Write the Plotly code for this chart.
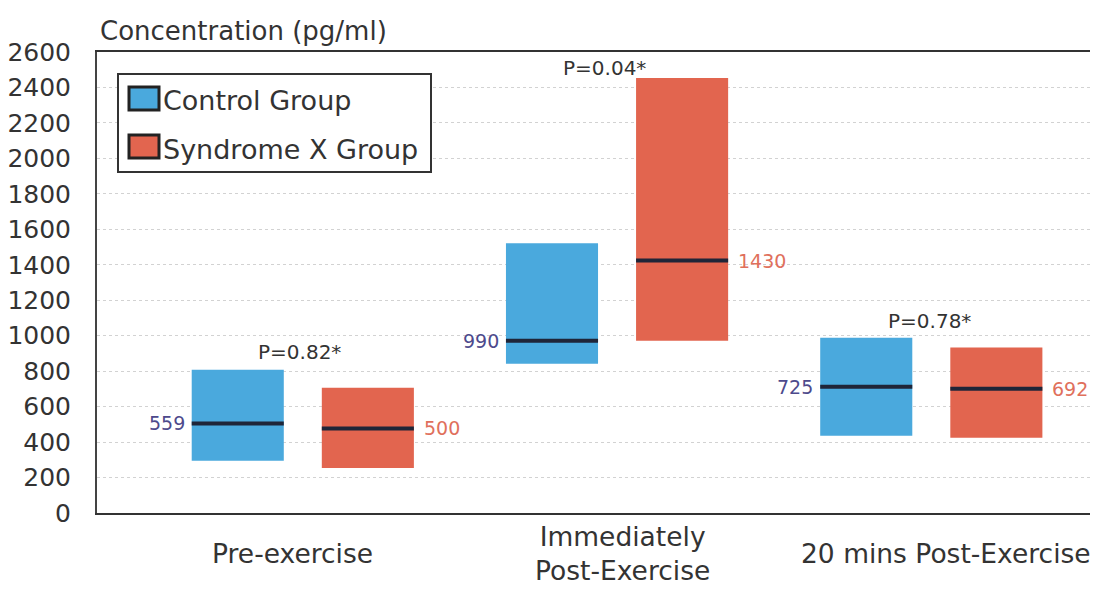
import plotly.graph_objects as go

# ---- data ----
categories = ["Pre-exercise", "Immediately<br>Post-Exercise", "20 mins Post-Exercise"]
group_pos = [0, 1, 2]

control_low = [294, 842, 435]
control_high = [808, 1521, 989]
control_median = [505, 972, 712]
control_labels = ["559", "990", "725"]

syn_low = [254, 972, 424]
syn_high = [707, 2453, 933]
syn_median = [477, 1424, 701]
syn_labels = ["500", "1430", "692"]

p_texts = ["P=0.82*", "P=0.04*", "P=0.78*"]
p_y = [910, 2510, 1085]

y_ticks = list(range(0, 2601, 200))

# ---- styling ----
FONT = "DejaVu Sans"
BLUE = "#4aa9dd"
RED = "#e2654f"
MED = "#1f2538"
TXT = "#333333"
CTRL_LBL = "#4d4a8c"
SYN_LBL = "#e0705c"

PAGE_OFF = 8  # html body margin
W, H = 1098, 590
ML = 97 - PAGE_OFF
MT = 52 - PAGE_OFF
MB = H - (513 - PAGE_OFF)
MR = 0
OFF = 0.207
BW = 0.293
X0_PX, X_SCALE = 302.8, 314.25  # screen px of group 0, px per group


def px_x(px):
    return (px - PAGE_OFF - ML) / (W - ML - MR)


def px_y(py):
    return (H - MB - (py - PAGE_OFF)) / (H - MT - MB)


x_left = (97 - X0_PX) / X_SCALE
x_right = (W + PAGE_OFF - X0_PX) / X_SCALE

fig = go.Figure()

ctrl_x = [g - OFF for g in group_pos]
syn_x = [g + OFF for g in group_pos]

fig.add_trace(go.Bar(
    x=ctrl_x, y=[h - l for h, l in zip(control_high, control_low)], base=control_low,
    width=BW, marker=dict(color=BLUE, line=dict(width=0)), showlegend=False, hoverinfo="skip"))
fig.add_trace(go.Bar(
    x=syn_x, y=[h - l for h, l in zip(syn_high, syn_low)], base=syn_low,
    width=BW, marker=dict(color=RED, line=dict(width=0)), showlegend=False, hoverinfo="skip"))

# median lines
mx, my = [], []
for xs, meds in ((ctrl_x, control_median), (syn_x, syn_median)):
    for x, m in zip(xs, meds):
        mx += [x - BW / 2, x + BW / 2, None]
        my += [m, m, None]
fig.add_trace(go.Scatter(x=mx, y=my, mode="lines", line=dict(color=MED, width=4),
                         showlegend=False, hoverinfo="skip"))

ann = []
# value labels
for x, m, t in zip(ctrl_x, control_median, control_labels):
    ann.append(dict(x=x - BW / 2, y=m, xref="x", yref="y", text=t, showarrow=False,
                    xanchor="right", yanchor="middle", xshift=-5,
                    font=dict(family=FONT, size=19, color=CTRL_LBL)))
for x, m, t in zip(syn_x, syn_median, syn_labels):
    ann.append(dict(x=x + BW / 2, y=m, xref="x", yref="y", text=t, showarrow=False,
                    xanchor="left", yanchor="middle", xshift=8,
                    font=dict(family=FONT, size=19, color=SYN_LBL)))
# p-values
for g, t, y, xs in zip(group_pos, p_texts, p_y, [-3, -13, -2]):
    ann.append(dict(x=g, y=y, xref="x", yref="y", text=t, showarrow=False,
                    xanchor="center", yanchor="middle", xshift=xs,
                    font=dict(family=FONT, size=20, color=TXT)))
# category labels
for g, t, xs in zip(group_pos, categories, [-10, 5, 15]):
    ann.append(dict(x=g, y=px_y(553), xref="x", yref="paper", text=t, showarrow=False,
                    xanchor="center", yanchor="middle", xshift=xs,
                    font=dict(family=FONT, size=26.5, color=TXT)))
# axis title
ann.append(dict(x=px_x(98), y=px_y(31), xref="paper", yref="paper",
                text="Concentration (pg/ml)", showarrow=False, xanchor="left", yanchor="middle",
                font=dict(family=FONT, size=26, color=TXT)))

# legend (manual)
shapes = [
    dict(type="rect", xref="paper", yref="paper", x0=px_x(118), x1=px_x(431),
         y0=px_y(172), y1=px_y(74), line=dict(color="#333333", width=2), fillcolor="white",
         layer="above"),
    dict(type="rect", xref="paper", yref="paper", x0=px_x(129), x1=px_x(159),
         y0=px_y(110), y1=px_y(87), line=dict(color="#222222", width=3), fillcolor=BLUE,
         layer="above"),
    dict(type="rect", xref="paper", yref="paper", x0=px_x(129), x1=px_x(159),
         y0=px_y(158), y1=px_y(135), line=dict(color="#222222", width=3), fillcolor=RED,
         layer="above"),
]
for t, yc in (("Control Group", 100), ("Syndrome X Group", 149)):
    ann.append(dict(x=px_x(161), y=px_y(yc), xref="paper", yref="paper", text=t,
                    showarrow=False, xanchor="left", yanchor="middle",
                    font=dict(family=FONT, size=27, color=TXT)))

fig.update_layout(
    width=W, height=H, margin=dict(l=ML, r=MR, t=MT, b=MB),
    paper_bgcolor="white", plot_bgcolor="white",
    barmode="overlay", showlegend=False,
    annotations=ann, shapes=shapes,
    font=dict(family=FONT, color=TXT),
    xaxis=dict(range=[x_left, x_right], showticklabels=False, ticks="", showgrid=False,
               zeroline=False, showline=True, linecolor="#333333", linewidth=2, mirror=True,
               fixedrange=True),
    yaxis=dict(range=[0, 2600], tickvals=y_ticks, ticks="", ticklabelstandoff=19,
               tickfont=dict(family=FONT, size=25, color=TXT),
               showgrid=True, gridcolor="#d2d2d2", griddash="dot", gridwidth=1,
               zeroline=False, showline=True, linecolor="#444444", linewidth=2,
               fixedrange=True),
)

fig.write_html("out.html")
